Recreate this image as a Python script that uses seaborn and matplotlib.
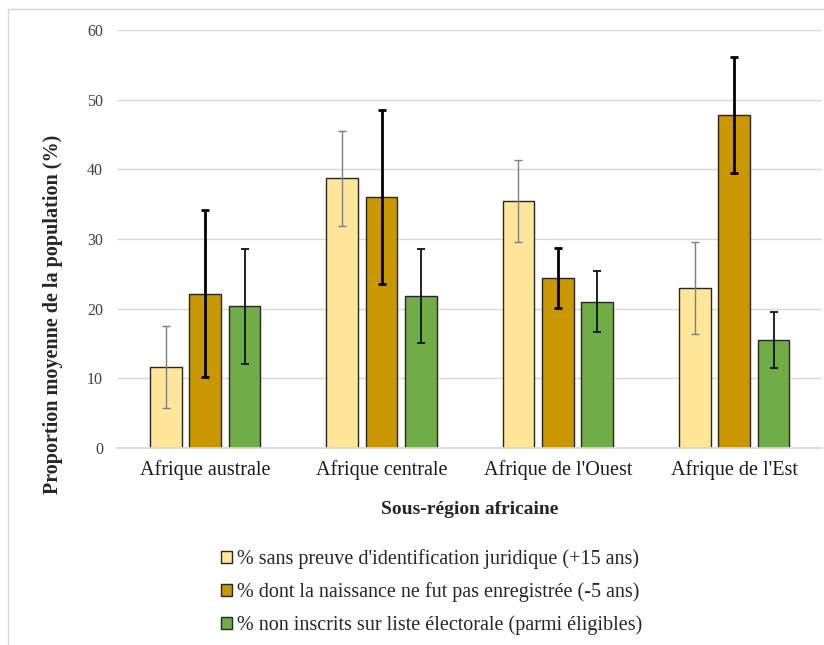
import numpy as np
import pandas as pd
import seaborn as sns
import matplotlib.pyplot as plt
from matplotlib.patches import Rectangle

# data
regions = ["Afrique australe", "Afrique centrale", "Afrique de l'Ouest", "Afrique de l'Est"]
series = ["% sans preuve d'identification juridique (+15 ans)",
          "% dont la naissance ne fut pas enregistrée (-5 ans)",
          "% non inscrits sur liste électorale (parmi éligibles)"]
sans_id = [11.6, 38.7, 35.5, 23.0]
sans_id_err = [5.9, 6.8, 5.9, 6.6]
naissance = [22.1, 36.0, 24.4, 47.8]
naissance_err = [12.0, 12.5, 4.3, 8.3]
non_inscrits = [20.3, 21.8, 21.0, 15.5]
non_inscrits_err = [8.3, 6.7, 4.4, 4.0]
colors = ["#FFE699", "#C99700", "#70AD47"]
err_styles = [("#7F7F7F", 1.0), ("#000000", 2.0), ("#111111", 1.3)]

values = [sans_id, naissance, non_inscrits]
errors = [sans_id_err, naissance_err, non_inscrits_err]

rows = []
for s, vals in zip(series, values):
  for r, v in zip(regions, vals):
    rows.append({"region": r, "serie": s, "valeur": v})
df = pd.DataFrame(rows)

sns.set_theme(style="white")
plt.rcParams['font.family'] = ['Liberation Serif', 'DejaVu Serif']

fig = plt.figure(figsize=(8.24, 6.45), dpi=100)
ax = fig.add_axes([0.142, 0.306, 0.856, 0.647])

sns.barplot(data=df, x="region", y="valeur", hue="serie", order=regions, hue_order=series,
            palette=colors, saturation=1, width=0.67, gap=0.2, edgecolor="#262626", linewidth=1.0,
            errorbar=None, legend=True, ax=ax)

for cont, errs, (ec, lw) in zip(ax.containers, errors, err_styles):
  xs = [b.get_x() + b.get_width() / 2 for b in cont]
  ys = [b.get_height() for b in cont]
  ax.errorbar(xs, ys, yerr=errs, fmt="none", ecolor=ec, elinewidth=lw, capsize=3, capthick=lw, zorder=5)

ax.set_ylim(0, 60)
ax.set_yticks(range(0, 61, 10))
ax.set_xlim(-0.5, 3.5)
ax.grid(axis="y", color="#D9D9D9", linewidth=1)
ax.set_axisbelow(True)
for sp in ["top", "right", "left"]:
  ax.spines[sp].set_visible(False)
ax.spines["bottom"].set_color("#D9D9D9")
ax.tick_params(axis="y", length=0, pad=10, labelsize=11.5, labelcolor="#404040")
ax.tick_params(axis="x", length=0, pad=9, labelsize=14.5, labelcolor="#1a1a1a")
ax.set_xlabel("Sous-région africaine", fontsize=14, fontweight="bold", labelpad=15)
ax.set_ylabel("Proportion moyenne de la population (%)", fontsize=14.5, fontweight="bold")
ax.yaxis.set_label_coords(-0.077, 0.32)

handles, labels = ax.get_legend_handles_labels()
ax.get_legend().remove()
fig.legend(handles, labels, loc="upper left", bbox_to_anchor=(0.268, 0.148), frameon=False,
           fontsize=14.5, handlelength=0.55, handleheight=0.55, handletextpad=0.25,
           labelspacing=0.65, borderpad=0, borderaxespad=0)

fig.patches.append(Rectangle((8 / 824, -0.1), 1.1, (645 - 9) / 645 + 0.1, transform=fig.transFigure,
                             fill=False, edgecolor="#D9D9D9", linewidth=1, figure=fig))

plt.savefig("out.png", dpi=100)
